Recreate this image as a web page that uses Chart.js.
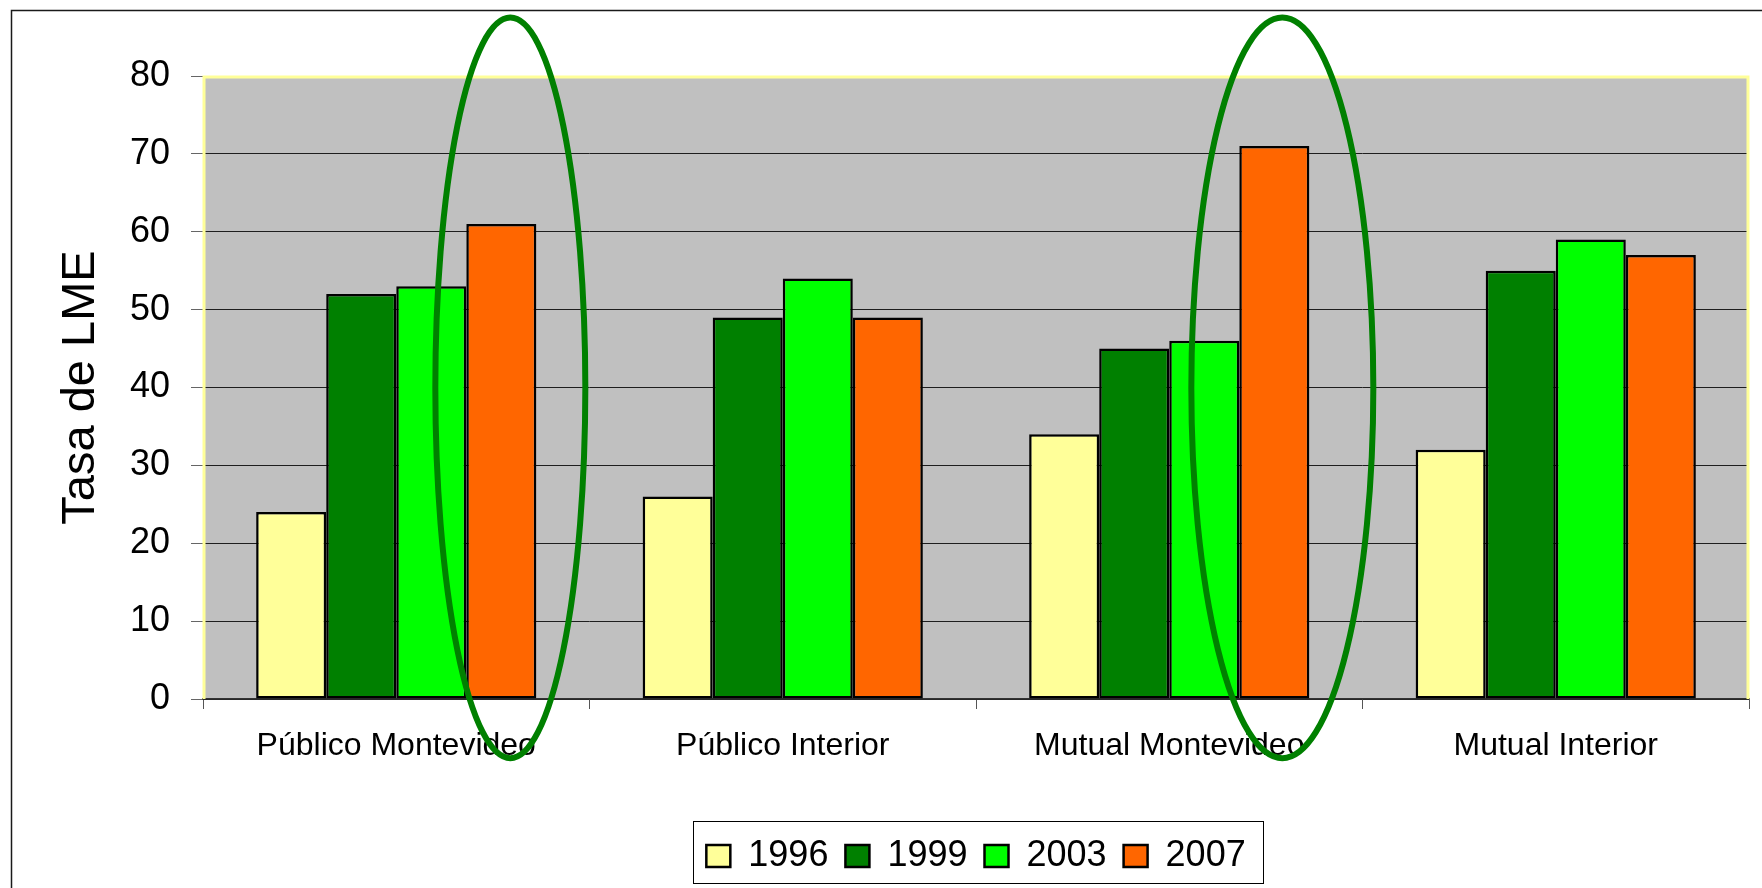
<!DOCTYPE html>
<html lang="es">
<head>
<meta charset="utf-8">
<title>Tasa de LME</title>
<script src="https://cdn.jsdelivr.net/npm/chart.js@4.4.1/dist/chart.umd.min.js"></script>
<style>
    html, body { margin: 0; padding: 0; background: #ffffff; }
    #wrap { position: relative; width: 1762px; height: 888px; }
</style>
</head>
<body>
<div id="wrap"><canvas id="chart"></canvas></div>
<script>
// Datos del gráfico
const CATEGORIES = ['Público Montevideo', 'Público Interior', 'Mutual Montevideo', 'Mutual Interior'];
const YEARS = ['1996', '1999', '2003', '2007'];
const VALUES_1996 = [24, 26, 34, 32];
const VALUES_1999 = [52, 49, 45, 55];
const VALUES_2003 = [53, 54, 46, 59];
const VALUES_2007 = [61, 49, 71, 57];
const Y_TICKS = [0, 10, 20, 30, 40, 50, 60, 70, 80];

const COLORS = ['#FFFF99', '#008000', '#00FF00', '#FF6600'];
const FONT = "'Liberation Sans', Arial, sans-serif";

// Elipses que resaltan la barra de 2007 en algunas categorías
const HIGHLIGHTS = [
    { category: 0, dx: 9, rx: 75 },
    { category: 2, dx: 8, rx: 91 }
];
const HIGHLIGHT_TOP = 87.5;
const HIGHLIGHT_BOTTOM = -7.6;

// Fondo gris del área de trazado, borde amarillo y marco exterior
const plotFrame = {
    id: 'plotFrame',
    beforeDraw(chart) {
        const { ctx, chartArea: a } = chart;
        ctx.save();
        ctx.fillStyle = '#ffffff';
        ctx.fillRect(0, 0, chart.width, chart.height);
        ctx.fillStyle = '#C0C0C0';
        ctx.fillRect(a.left, a.top, a.right - a.left, a.bottom - a.top);
        ctx.restore();
    },
    beforeDatasetsDraw(chart) {
        const { ctx, chartArea: a } = chart;
        ctx.save();
        ctx.strokeStyle = '#FFFF99';
        ctx.lineWidth = 3;
        ctx.beginPath();
        ctx.moveTo(a.left + 1, a.bottom);
        ctx.lineTo(a.left + 1, a.top + 1);
        ctx.lineTo(a.right - 1, a.top + 1);
        ctx.lineTo(a.right - 1, a.bottom);
        ctx.stroke();
        ctx.restore();
    },
    afterDraw(chart) {
        const { ctx } = chart;
        ctx.save();
        ctx.strokeStyle = '#1a1a1a';
        ctx.lineWidth = 1.5;
        ctx.beginPath();
        ctx.moveTo(11.5, chart.height);
        ctx.lineTo(11.5, 10.5);
        ctx.lineTo(chart.width, 10.5);
        ctx.stroke();

        // Recuadro de la leyenda
        const boxes = chart.legend.legendHitBoxes;
        if (boxes && boxes.length) {
            const first = boxes[0];
            const last = boxes[boxes.length - 1];
            const left = first.left - 13;
            const right = last.left + last.width + 18;
            ctx.strokeStyle = '#000000';
            ctx.lineWidth = 1;
            ctx.strokeRect(Math.round(left) + 0.5, Math.round(chart.legend.top) + 0.5,
                Math.round(right - left), Math.round(chart.legend.bottom - chart.legend.top) - 1);
        }
        ctx.restore();
    }
};

// Elipses verdes dibujadas por encima de todo
const highlightRings = {
    id: 'highlightRings',
    afterDraw(chart) {
        const { ctx } = chart;
        const meta = chart.getDatasetMeta(3);
        const yScale = chart.scales.y;
        const top = yScale.getPixelForValue(HIGHLIGHT_TOP);
        const bottom = yScale.getPixelForValue(HIGHLIGHT_BOTTOM);
        ctx.save();
        ctx.strokeStyle = '#008000';
        ctx.lineWidth = 6;
        HIGHLIGHTS.forEach(h => {
            const bar = meta.data[h.category];
            ctx.beginPath();
            ctx.ellipse(bar.x + h.dx, (top + bottom) / 2, h.rx, (bottom - top) / 2, 0, 0, Math.PI * 2);
            ctx.stroke();
        });
        ctx.restore();
    }
};

const SERIES = [VALUES_1996, VALUES_1999, VALUES_2003, VALUES_2007];

const CONTEXT = document.getElementById('chart').getContext('2d');
const CHART = new Chart(CONTEXT, {
    type: 'bar',
    data: {
        labels: CATEGORIES,
        datasets: SERIES.map((values, i) => ({
            label: YEARS[i],
            data: values,
            backgroundColor: COLORS[i],
            borderColor: '#000000',
            borderWidth: 2.5,
            borderSkipped: false,
            categoryPercentage: 0.725,
            barPercentage: 1
        }))
    },
    options: {
        responsive: true,
        maintainAspectRatio: false,
        animation: false,
        layout: {
            padding: { left: 12, right: 13, top: 76, bottom: 4 }
        },
        plugins: {
            legend: {
                position: 'bottom',
                fullSize: false,
                labels: {
                    color: '#000000',
                    font: { family: FONT, size: 36 },
                    boxWidth: 24,
                    boxHeight: 22,
                    padding: 17
                }
            },
            tooltip: { enabled: false }
        },
        scales: {
            x: {
                grid: {
                    drawOnChartArea: false,
                    drawTicks: true,
                    tickLength: 10,
                    tickColor: '#555555'
                },
                border: { color: '#333333', width: 1.5 },
                ticks: {
                    color: '#000000',
                    font: { family: FONT, size: 32 },
                    padding: 18,
                    maxRotation: 0
                },
                afterFit(scale) {
                    scale.height = 122;
                }
            },
            y: {
                min: 0,
                max: 80,
                afterBuildTicks(scale) {
                    scale.ticks = Y_TICKS.map(v => ({ value: v }));
                },
                grid: {
                    color: ctx => (ctx.tick && ctx.tick.value === 80) ? 'rgba(0,0,0,0)' : '#1e1e1e',
                    lineWidth: 1,
                    tickLength: 12,
                    tickColor: '#666666'
                },
                border: { display: false },
                ticks: {
                    color: '#000000',
                    font: { family: FONT, size: 36 },
                    padding: 21
                },
                title: {
                    display: true,
                    text: 'Tasa de LME',
                    color: '#000000',
                    font: { family: FONT, size: 47 },
                    padding: { top: 41, bottom: 0 }
                },
                afterFit(scale) {
                    scale.width = 191;
                }
            }
        }
    },
    plugins: [plotFrame, highlightRings]
});
</script>
</body>
</html>
